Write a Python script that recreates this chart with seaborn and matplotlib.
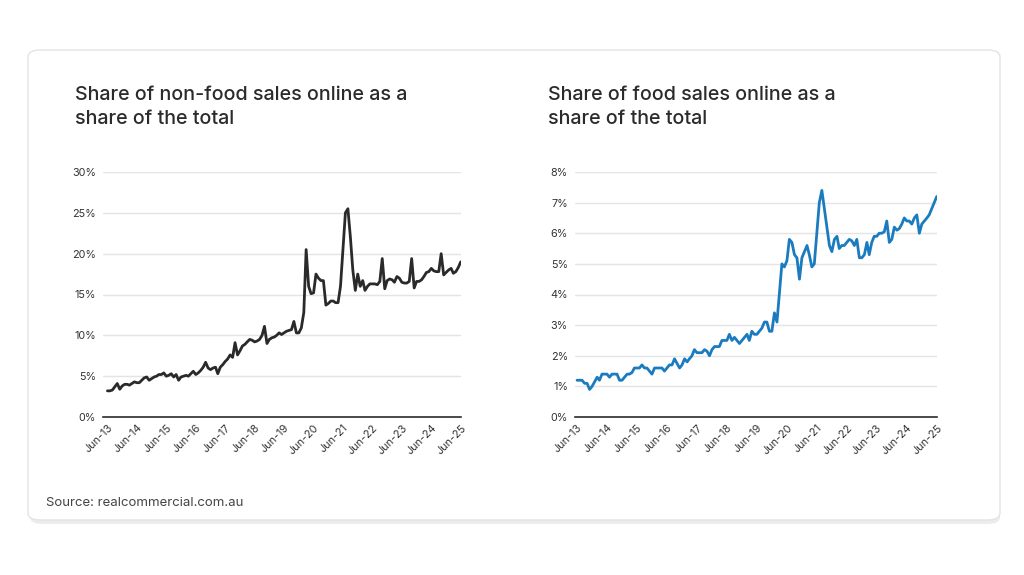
import matplotlib
matplotlib.use("Agg")
import matplotlib.pyplot as plt
from matplotlib.patches import FancyBboxPatch
import seaborn as sns
import pandas as pd

# ---- data (monthly, Jun-13 .. Jun-25) ----
start_month = "2013-06-01"
n_months = 145

nonfood_share = [
    3.2, 3.2, 3.3, 3.7, 4.1, 3.4, 3.8, 4.0, 4.0, 3.9, 4.1, 4.3, 4.2, 4.2, 4.5, 4.8,
    4.9, 4.5, 4.7, 4.9, 5.0, 5.2, 5.2, 5.4, 5.0, 5.1, 5.3, 4.9, 5.2, 4.5, 4.9, 5.0,
    5.1, 5.0, 5.3, 5.6, 5.2, 5.4, 5.7, 6.1, 6.7, 6.0, 5.8, 6.0, 6.1, 5.3, 6.1, 6.4,
    6.8, 7.1, 7.6, 7.3, 9.1, 7.6, 8.1, 8.7, 8.9, 9.2, 9.5, 9.4, 9.2, 9.3, 9.5, 10.0,
    11.1, 9.0, 9.5, 9.7, 9.8, 10.0, 10.3, 10.1, 10.3, 10.5, 10.6, 10.7, 11.7, 10.3, 10.3, 10.9,
    12.8, 20.5, 16.0, 15.1, 15.2, 17.5, 17.0, 16.7, 16.7, 13.7, 13.9, 14.2, 14.2, 14.0, 14.0, 16.0,
    20.5, 25.0, 25.5, 22.0, 18.0, 15.5, 17.5, 16.0, 16.7, 15.5, 16.0, 16.3, 16.3, 16.3, 16.2, 16.6,
    19.4, 15.7, 16.7, 16.9, 16.8, 16.5, 17.2, 17.0, 16.5, 16.4, 16.4, 16.6, 19.4, 15.8, 16.6, 16.6,
    16.8, 17.2, 17.7, 17.8, 18.2, 17.9, 17.8, 17.8, 20.0, 17.4, 17.7, 18.0, 18.2, 17.6, 17.8, 18.3,
    19.0,
]

food_share = [
    1.2, 1.2, 1.2, 1.1, 1.1, 0.9, 1.0, 1.15, 1.3, 1.2, 1.4, 1.4, 1.4, 1.3, 1.4, 1.4,
    1.4, 1.2, 1.2, 1.3, 1.4, 1.4, 1.45, 1.6, 1.6, 1.6, 1.7, 1.6, 1.6, 1.5, 1.4, 1.6,
    1.6, 1.6, 1.6, 1.5, 1.6, 1.7, 1.7, 1.9, 1.75, 1.6, 1.7, 1.9, 1.8, 1.9, 2.0, 2.2,
    2.1, 2.1, 2.1, 2.2, 2.15, 2.0, 2.2, 2.3, 2.3, 2.3, 2.5, 2.5, 2.5, 2.7, 2.5, 2.6,
    2.5, 2.4, 2.5, 2.6, 2.7, 2.5, 2.8, 2.7, 2.7, 2.8, 2.9, 3.1, 3.1, 2.8, 2.8, 3.4,
    3.1, 4.0, 5.0, 4.9, 5.1, 5.8, 5.7, 5.3, 5.2, 4.5, 5.2, 5.4, 5.6, 5.3, 4.9, 5.0,
    6.0, 7.0, 7.4, 6.8, 6.2, 5.6, 5.4, 5.8, 5.9, 5.5, 5.6, 5.6, 5.7, 5.8, 5.75, 5.6,
    5.8, 5.2, 5.2, 5.3, 5.7, 5.3, 5.7, 5.9, 5.9, 6.0, 6.0, 6.05, 6.4, 5.7, 5.8, 6.2,
    6.1, 6.15, 6.3, 6.5, 6.4, 6.4, 6.3, 6.5, 6.6, 6.0, 6.3, 6.4, 6.5, 6.6, 6.8, 7.0,
    7.2,
]

tick_labels = ["Jun-13", "Jun-14", "Jun-15", "Jun-16", "Jun-17", "Jun-18", "Jun-19",
               "Jun-20", "Jun-21", "Jun-22", "Jun-23", "Jun-24", "Jun-25"]

titles = ["Share of non-food sales online as a\nshare of the total",
          "Share of food sales online as a\nshare of the total"]
source_text = "Source: realcommercial.com.au"

nonfood_yticks = [0, 5, 10, 15, 20, 25, 30]
food_yticks = [0, 1, 2, 3, 4, 5, 6, 7, 8]

# ---- build frames ----
dates = pd.date_range(start_month, periods=n_months, freq="MS")
df_nonfood = pd.DataFrame({"date": dates, "share": nonfood_share})
df_food = pd.DataFrame({"date": dates, "share": food_share})
tick_dates = pd.date_range(start_month, periods=len(tick_labels), freq="12MS")

sns.set_theme(style="white")
plt.rcParams["font.family"] = ["Inter", "DejaVu Sans"]

W, H = 1024, 575
fig = plt.figure(figsize=(W / 100, H / 100), dpi=100)
fig.patch.set_facecolor("white")

# card with shadow
shadow = FancyBboxPatch((30 / W, 1 - 524 / H), 970 / W, 472 / H,
                        boxstyle="round,pad=0,rounding_size=0.012",
                        transform=fig.transFigure, facecolor="#ececec",
                        edgecolor="none", zorder=0)
card = FancyBboxPatch((28 / W, 1 - 520 / H), 972 / W, 470 / H,
                      boxstyle="round,pad=0,rounding_size=0.012",
                      transform=fig.transFigure, facecolor="white",
                      edgecolor="#e3e3e3", linewidth=1.0, zorder=1)
fig.patches.extend([shadow, card])

text_color = "#2b2b2b"
grid_color = "#e4e4e4"

axes_specs = [
    (df_nonfood, [103 / W, 1 - 417 / H, 358 / W, 245 / H], "#2a2a2a", nonfood_yticks, (0, 30), 75),
    (df_food, [575 / W, 1 - 417 / H, 362 / W, 245 / H], "#1b7bbf", food_yticks, (0, 8), 548),
]

for i, (df, rect, color, yticks, ylim, title_x) in enumerate(axes_specs):
    ax = fig.add_axes(rect)
    ax.set_facecolor("none")
    ax.set_zorder(2)
    sns.lineplot(data=df, x="date", y="share", ax=ax, color=color, linewidth=2.0)
    ax.set_ylim(*ylim)
    ax.set_yticks(yticks)
    ax.set_yticklabels([f"{v}%" for v in yticks])
    pad_days = 55 if i == 0 else 25
    ax.set_xlim(dates[0] - pd.Timedelta(days=pad_days), dates[-1] + pd.Timedelta(days=3))
    ax.set_xticks(tick_dates)
    ax.set_xticklabels(tick_labels, rotation=45, ha="right", rotation_mode="anchor")
    ax.set_xlabel("")
    ax.set_ylabel("")
    ax.grid(axis="y", color=grid_color, linewidth=1.0)
    ax.grid(axis="x", visible=False)
    ax.set_axisbelow(True)
    for s in ["top", "right", "left"]:
        ax.spines[s].set_visible(False)
    ax.spines["bottom"].set_color("#2b2b2b")
    ax.spines["bottom"].set_linewidth(1.2)
    ax.tick_params(axis="y", length=0, pad=5, labelsize=7.8, labelcolor="#333333")
    ax.tick_params(axis="x", length=0, pad=4, labelsize=7.8, labelcolor="#333333")

    fig.text(title_x / W, 1 - 86 / H, titles[i], fontsize=14.2, fontweight="medium",
             color=text_color, va="top", ha="left", linespacing=1.45, zorder=3)

fig.text(46 / W, 1 - 503 / H, source_text, fontsize=9.5, color="#444444",
         va="center", ha="left", zorder=3)

fig.savefig("out.png", dpi=100, facecolor=fig.get_facecolor())
